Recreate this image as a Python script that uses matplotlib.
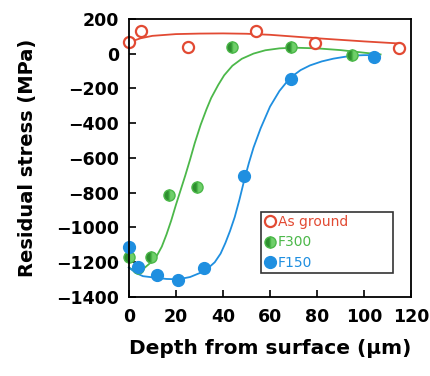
import matplotlib.pyplot as plt

# measured points
ground_x = [0, 5, 25, 54, 79, 115]
ground_y = [65, 130, 40, 130, 60, 30]
f300_x = [0, 4, 9.5, 17, 29, 44, 69, 95]
f300_y = [-1170, -1235, -1170, -815, -765, 35, 40, -10]
f150_x = [0, 4, 12, 21, 32, 49, 69, 104]
f150_y = [-1115, -1225, -1275, -1300, -1235, -705, -145, -20]

# fitted curves
ground_fit_x = [0, 5, 10, 20, 30, 40, 50, 60, 70, 80, 90, 100, 110, 115]
ground_fit_y = [65, 88, 102, 112, 115, 116, 114, 108, 98, 88, 79, 70, 62, 58]
f300_fit_x = [0, 3, 6, 9, 12, 14, 16, 18, 20, 22, 24, 26, 28, 30.5, 33, 35, 38,
              40.5, 44, 48, 53, 58, 64, 70, 80, 90, 100, 107]
f300_fit_y = [-1230, -1255, -1240, -1205, -1160, -1110, -1040, -960, -870, -785, -700,
              -610, -515, -410, -320, -255, -180, -125, -70, -30, 0, 19, 30, 34, 30,
              20, 5, -5]
f150_fit_x = [0, 3, 6, 12, 16, 21, 26, 30.5, 34, 36.5, 39, 41, 43, 45, 47, 49, 51,
              53, 56, 60, 64, 68.5, 73, 77, 82, 87, 92, 96, 100, 104]
f150_fit_y = [-1230, -1262, -1280, -1290, -1296, -1298, -1285, -1260, -1230, -1200,
              -1150, -1090, -1020, -940, -840, -730, -630, -540, -430, -305, -215,
              -140, -95, -68, -45, -29, -18, -11, -9, -9]

red = '#e24a33'
green = '#4cb84a'
blue = '#1f8fe0'

plt.rcParams['font.family'] = ['DejaVu Sans']
plt.rcParams['font.weight'] = 'bold'

fig = plt.figure(figsize=(4.31, 3.76), dpi=100)
ax = fig.add_axes([0.299, 0.21, 0.655, 0.74])

ax.plot(ground_fit_x, ground_fit_y, color=red, lw=1.3, clip_on=False)
ax.plot(f300_fit_x, f300_fit_y, color=green, lw=1.3, clip_on=False)
ax.plot(f150_fit_x, f150_fit_y, color=blue, lw=1.3, clip_on=False)

ax.plot(ground_x, ground_y, 'o', ms=8, mfc='white', mec=red, mew=1.6, ls='none',
        label='As ground', clip_on=False)
ax.plot(f300_x, f300_y, 'o', ms=8, fillstyle='left', mfc='#2f8f30', mfcalt='#6fcf6a',
        mec=green, mew=1.0, ls='none', label='F300', clip_on=False)
ax.plot(f150_x, f150_y, 'o', ms=8.5, mfc=blue, mec=blue, ls='none', label='F150',
        clip_on=False)

ax.set_xlim(0, 120)
ax.set_ylim(-1400, 200)
ax.set_xticks(range(0, 121, 20))
ax.set_yticks(range(-1400, 201, 200))
ax.set_yticklabels([str(v).replace('-', '\u2212') for v in range(-1400, 201, 200)])
ax.tick_params(direction='in', length=5, width=1.2, labelsize=12.5,
               top=False, right=False)
ax.tick_params(axis='x', pad=8)
ax.tick_params(axis='y', pad=7)
for s in ax.spines.values():
    s.set_linewidth(1.3)

ax.set_xlabel('Depth from surface (\u03bcm)', fontsize=14.5, fontweight='bold', labelpad=9)
ax.set_ylabel('Residual stress (MPa)', fontsize=14, fontweight='bold', labelpad=14)

leg = ax.legend(loc='lower left', bbox_to_anchor=(0.468, 0.086, 0.468, 0.22),
                mode='expand', fontsize=10, frameon=True, fancybox=False,
                handletextpad=0.15, borderpad=0.25, labelspacing=0.45,
                handlelength=0.8, borderaxespad=0)
leg.get_frame().set_edgecolor('black')
leg.get_frame().set_linewidth(1.2)
for t, c in zip(leg.get_texts(), [red, green, blue]):
    t.set_color(c)
    t.set_fontweight('normal')

fig.savefig('out.png', dpi=100)
